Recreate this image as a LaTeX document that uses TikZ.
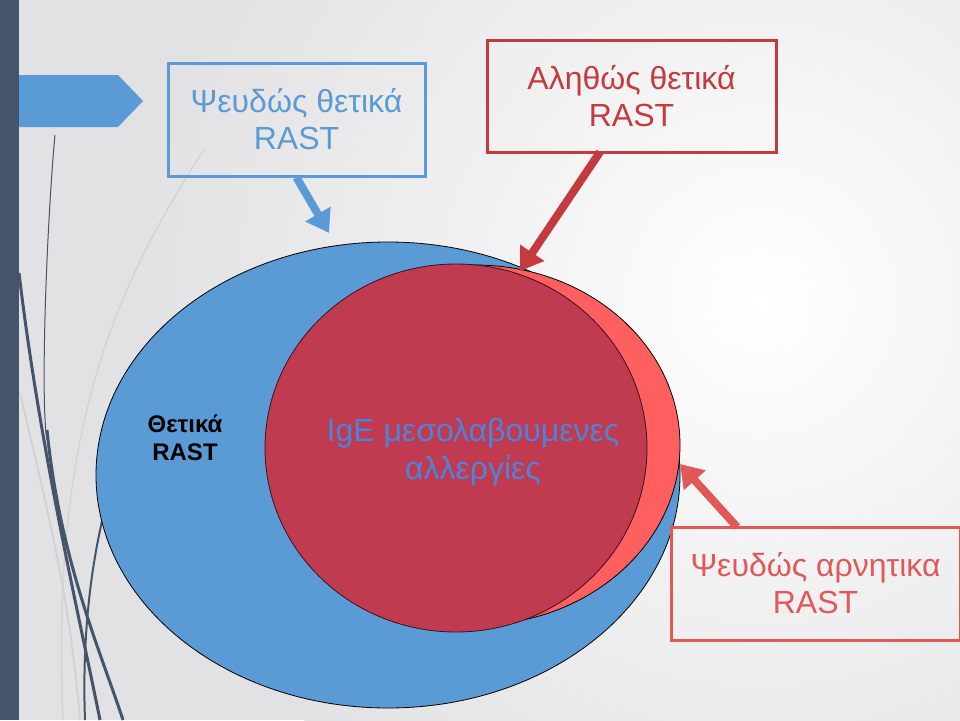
\documentclass[tikz,border=0pt]{standalone}
\usepackage{fontspec}
\setmainfont{Liberation Sans}
\usetikzlibrary{arrows.meta,shapes,positioning}
\definecolor{rastblue}{RGB}{91,155,213}
\definecolor{slatebar}{RGB}{68,84,106}
\definecolor{truered}{RGB}{192,58,80}
\definecolor{brightred}{RGB}{255,95,95}
\definecolor{boxred}{RGB}{196,58,62}
\definecolor{negred}{RGB}{226,88,88}
\definecolor{backgray}{RGB}{226,225,227}
\tikzstyle{box} = [draw, rectangle, line width=3pt, align=center,
    font=\fontsize{32}{37}\selectfont]
\tikzstyle{blob} = [draw=black, ellipse, line width=0.8pt, inner sep=0pt]
\tikzstyle{pointer} = [line width=8pt, -{Triangle[length=22pt,width=28pt]}]
\tikzstyle{swirl} = [line width=3pt, slatebar]

\begin{document}
\begin{tikzpicture}[x=1pt,y=-1pt]
  \useasboundingbox (0,0) rectangle (960,720);
  \clip (0,0) rectangle (960,720);
  \fill[backgray] (0,0) rectangle (960,720);
  \shade[inner color=white, outer color=backgray] (760,300) circle (620);
  % curves on the left edge
  \draw[gray!35, line width=1.2pt] (205,148) .. controls (120,280) and (50,420) .. (63,720);
  \draw[gray!35, line width=2pt] (20,393) .. controls (50,520) and (70,600) .. (80,720);
  \draw[slatebar, line width=1pt] (55,135) .. controls (47,220) and (40,400) .. (47,440);
  \draw[swirl] (47,430) .. controls (60,560) and (100,650) .. (123,720);
  \draw[swirl] (19,273) .. controls (40,450) and (80,620) .. (100,720);
  \draw[swirl, line width=2pt] (110,490) .. controls (90,560) and (82,640) .. (85,720);
  \fill[rastblue] (0,75) -- (118,75) -- (143,101) -- (118,127) -- (0,127) -- cycle;
  \fill[slatebar] (0,0) rectangle (19,720);

  \node [blob, fill=rastblue, minimum width=584pt, minimum height=466pt] (allrast) at (388,475) {};
  \node [blob, fill=brightred, minimum width=410pt, minimum height=360pt] (falseneg) at (475,445) {};
  \node [blob, draw=black!70!truered, fill=truered, minimum width=382pt, minimum height=368pt] (ige) at (456,448) {};

  \node [font=\bfseries\fontsize{24}{28}\selectfont, align=center] (poslabel) at (185,438) {Θετικά\\RAST};
  \node [text=rastblue!85!blue, font=\fontsize{32}{38}\selectfont, align=center] (igelabel) at (473,452)
    {IgE μεσολαβουμενες\\αλλεργίες};

  \node [box, draw=rastblue, text=rastblue, minimum width=257pt, minimum height=113pt] (fpbox) at (296.5,119.5) {Ψευδώς θετικά\\RAST};
  \node [box, draw=boxred, text=boxred, minimum width=289pt, minimum height=112pt] (tpbox) at (631.5,96) {Αληθώς θετικά\\RAST};
  \node [box, draw=negred, text=negred, minimum width=289pt, minimum height=113pt] (fnbox) at (815.5,583.5) {Ψευδώς αρνητικα\\RAST};

  \coordinate (fptip) at (329,233);
  \coordinate (tpfoot) at (600,152);
  \coordinate (tptip) at (520,271);
  \coordinate (fnfoot) at (737,527);
  \coordinate (fntip) at (680,464);
  \draw [pointer, rastblue] (fpbox.south) -- (fptip);
  \draw [pointer, boxred] (tpfoot) -- (tptip);
  \draw [pointer, negred] (fnfoot) -- (fntip);
\end{tikzpicture}
\end{document}
